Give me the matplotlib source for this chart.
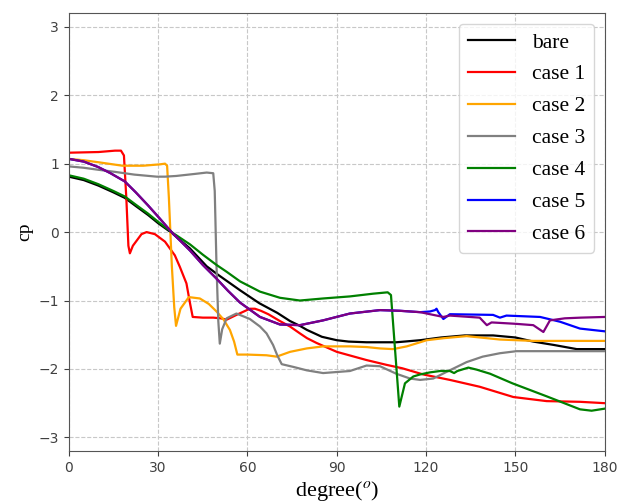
import matplotlib
matplotlib.use('Agg')
from matplotlib import pyplot as plt

plt.rcParams['mathtext.fontset'] = 'stix'

# Pressure coefficient around the body, one series per configuration
bare_x = [0, 5, 9.9, 15, 18.8, 22.5, 26.6, 30, 34.5, 40.7, 46.3, 50, 57.5, 64, 70, 74.3, 77.6, 80, 85, 90,
          94, 100, 110, 118, 125, 133, 142.5, 150, 156, 163, 170.6, 180]
bare_y = [0.81, 0.76, 0.68, 0.58, 0.50, 0.38, 0.25, 0.13, -0.01, -0.24, -0.50, -0.62, -0.85, -1.04, -1.18,
          -1.30, -1.37, -1.43, -1.53, -1.58, -1.60, -1.61, -1.61, -1.58, -1.54, -1.51, -1.51, -1.54,
          -1.60, -1.65, -1.71, -1.71]

case1_x = [0, 10, 15.5, 17.5, 18.5, 19.3, 20.0, 20.5, 21.5, 24.4, 26.1, 28.9, 32.3, 35.6, 37.3, 39.5,
           40.7, 41.6, 45, 48.5, 51, 53, 56.3, 60.8, 62.5, 64.5, 67, 70.9, 74.3, 77.6, 80, 83.2, 90, 100,
           106.7, 112, 119, 128, 138, 149.3, 160.5, 171.7, 180]
case1_y = [1.16, 1.17, 1.19, 1.19, 1.12, 0.5, -0.2, -0.31, -0.2, -0.03, 0.0, -0.03, -0.14, -0.34, -0.51,
           -0.75, -1.04, -1.24, -1.25, -1.25, -1.26, -1.28, -1.21, -1.12, -1.12, -1.15, -1.20, -1.30,
           -1.38, -1.48, -1.55, -1.62, -1.75, -1.87, -1.94, -1.99, -2.08, -2.16, -2.26, -2.41, -2.47,
           -2.48, -2.50]

case2_x = [0, 5, 10, 18, 25, 30.6, 32.3, 33.0, 33.6, 34.6, 35.4, 36.0, 37.5, 40.3, 44, 47, 49.6, 52,
           54.1, 55.5, 56.6, 60, 66.4, 69.8, 74.3, 79.9, 85.4, 94.4, 100, 104.5, 108.9, 113.5, 118,
           120.2, 126, 133.6, 144.8, 156, 168, 180]
case2_y = [1.07, 1.05, 1.02, 0.97, 0.97, 0.99, 1.0, 0.97, 0.5, -0.5, -1.1, -1.37, -1.12, -0.95, -0.97,
           -1.05, -1.16, -1.28, -1.43, -1.6, -1.79, -1.79, -1.80, -1.82, -1.75, -1.70, -1.67, -1.67,
           -1.68, -1.70, -1.71, -1.67, -1.61, -1.58, -1.55, -1.52, -1.57, -1.59, -1.59, -1.59]

case3_x = [0, 5, 10, 15.5, 22, 29.5, 32.3, 36, 42.3, 46.3, 48.5, 49.0, 49.6, 50.2, 50.7, 51.5, 53, 56.3,
           60.8, 64.2, 66.4, 68.6, 70.0, 71.5, 75.4, 79.9, 85.4, 94.4, 100, 104.5, 110, 114.6, 118,
           122.4, 127, 133.6, 139, 144.8, 150.4, 161.6, 180]
case3_y = [0.96, 0.94, 0.91, 0.88, 0.84, 0.81, 0.81, 0.82, 0.85, 0.87, 0.86, 0.6, -0.5, -1.3, -1.63,
           -1.42, -1.26, -1.19, -1.27, -1.38, -1.48, -1.65, -1.80, -1.93, -1.97, -2.02, -2.06, -2.03,
           -1.95, -1.96, -2.07, -2.14, -2.16, -2.14, -2.04, -1.90, -1.82, -1.77, -1.74, -1.74, -1.74]

case4_x = [0, 5, 9.9, 15, 18.8, 22.5, 26.6, 30, 34.5, 40.7, 45, 49.6, 53, 57.5, 64.2, 70.9, 77.6, 85.4,
           94.4, 102.2, 107.1, 108.2, 111, 112.9, 115.7, 118, 121.3, 124.7, 128, 129.4, 130.5, 134.2,
           137, 141.5, 149, 160.5, 171.7, 175.6, 180]
case4_y = [0.83, 0.78, 0.70, 0.60, 0.52, 0.40, 0.27, 0.15, 0.0, -0.18, -0.33, -0.48, -0.58, -0.72, -0.87,
           -0.96, -1.0, -0.97, -0.94, -0.90, -0.88, -0.92, -2.55, -2.21, -2.11, -2.08, -2.05, -2.03,
           -2.03, -2.06, -2.03, -1.98, -2.01, -2.07, -2.21, -2.40, -2.59, -2.61, -2.58]

case5_x = [0, 5, 9.9, 14, 18.8, 22.5, 26.6, 30.5, 34.5, 40.7, 45, 49.6, 53.5, 57.5, 64.2, 70.9, 77.6,
           85.4, 94.4, 104.5, 111.2, 118, 121.3, 123.0, 123.5, 124.1, 125.8, 128, 142.5, 144.8, 147,
           158.3, 165, 171.7, 180]
case5_y = [1.07, 1.03, 0.95, 0.86, 0.74, 0.58, 0.39, 0.20, 0.0, -0.27, -0.48, -0.68, -0.86, -1.03, -1.24,
           -1.35, -1.36, -1.29, -1.19, -1.14, -1.15, -1.17, -1.16, -1.14, -1.12, -1.17, -1.27, -1.20,
           -1.21, -1.25, -1.22, -1.24, -1.31, -1.41, -1.45]

case6_x = [0, 5, 9.9, 14, 18.8, 22.5, 26.6, 30.5, 34.5, 40.7, 45, 49.6, 53.5, 57.5, 64.2, 70.9, 77.6,
           85.4, 94.4, 104.5, 111.2, 118, 121.3, 125.8, 128, 138, 140.4, 142, 150, 156, 159.4, 161.6,
           166.6, 172, 180]
case6_y = [1.07, 1.03, 0.95, 0.86, 0.74, 0.58, 0.39, 0.20, 0.0, -0.27, -0.48, -0.68, -0.86, -1.03, -1.24,
           -1.35, -1.36, -1.29, -1.19, -1.14, -1.15, -1.17, -1.20, -1.24, -1.22, -1.25, -1.36, -1.32,
           -1.34, -1.36, -1.46, -1.29, -1.26, -1.25, -1.24]

series = [
    ('bare', bare_x, bare_y, 'black'),
    ('case 1', case1_x, case1_y, 'red'),
    ('case 2', case2_x, case2_y, 'orange'),
    ('case 3', case3_x, case3_y, 'gray'),
    ('case 4', case4_x, case4_y, 'green'),
    ('case 5', case5_x, case5_y, 'blue'),
    ('case 6', case6_x, case6_y, 'purple'),
]

fig = plt.figure(figsize=(6.26, 5.04), dpi=100)
ax = fig.add_subplot(111)
fig.subplots_adjust(left=0.110, right=0.966, top=0.974, bottom=0.105)

for label, xs, ys, color in series:
    ax.plot(xs, ys, color=color, linewidth=1.6, label=label)

ax.set_xlim(0, 180)
ax.set_ylim(-3.2, 3.2)
ax.set_xticks([0, 30, 60, 90, 120, 150, 180])
ax.set_yticks([-3, -2, -1, 0, 1, 2, 3])
ax.grid(True, linestyle='--', color='#c8c8c8', linewidth=0.8)
ax.tick_params(labelsize=10, colors='#404040')
for spine in ax.spines.values():
    spine.set_color('#555555')

ax.set_xlabel(r'degree($^{o}$)', fontsize=16, family='Liberation Serif', labelpad=3)
ax.set_ylabel('cp', fontsize=14, family='Liberation Serif')

ax.legend(loc='upper right', prop={'family': 'Liberation Serif', 'size': 15.5},
          handlelength=2.2, labelspacing=0.55)

fig.savefig('out.png', dpi=100)
